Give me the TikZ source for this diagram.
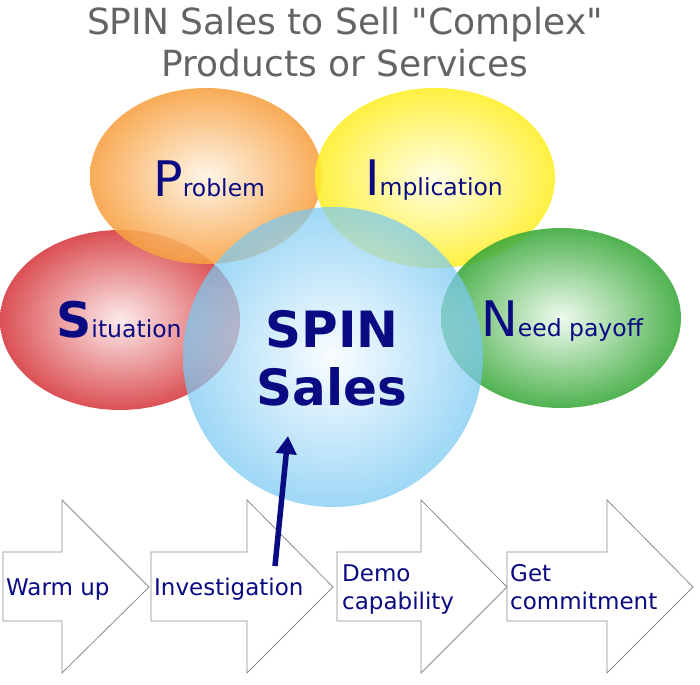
\documentclass[tikz,border=0pt]{standalone}
\usepackage{fontspec}
\setmainfont{DejaVu Sans}[Ligatures=TeXOff]
\usetikzlibrary{arrows.meta}
\definecolor{navy}{RGB}{10,10,130}
\definecolor{titlegray}{RGB}{100,100,100}
\definecolor{orgout}{RGB}{247,160,64}
\definecolor{orgin}{RGB}{255,244,228}
\definecolor{yelout}{RGB}{255,238,40}
\definecolor{yelin}{RGB}{255,255,228}
\definecolor{redout}{RGB}{214,56,60}
\definecolor{redin}{RGB}{252,232,232}
\definecolor{grnout}{RGB}{56,168,56}
\definecolor{grnin}{RGB}{236,250,236}
\definecolor{bluout}{RGB}{120,200,242}
\definecolor{bluin}{RGB}{248,252,255}
\definecolor{boxline}{RGB}{140,140,140}
\tikzset{
  ball/.style={fill opacity=0.88},
  blockarrow/.style={draw=boxline, line width=0.8pt, fill=white},
  steptext/.style={inner sep=0pt, text=navy, font=\fontsize{23}{28}\selectfont, anchor=base west, align=left},
  lbl/.style={inner sep=0pt, text=navy, anchor=base west},
  title/.style={text=titlegray, font=\fontsize{36}{42}\selectfont, align=center, inner sep=0pt},
  pointer/.style={draw=navy, line width=5.5pt, -{Triangle[width=20pt,length=18pt]}}
}
\newcommand{\bigletter}[1]{{\fontsize{49}{49}\selectfont #1}}
\newcommand{\smallrest}[1]{{\fontsize{23.5}{23.5}\selectfont #1}}
\begin{document}
\begin{tikzpicture}[x=1pt,y=-1pt]
\useasboundingbox (0,0) rectangle (700,684);
% title
\node[title] (ttl) at (345,42) {SPIN Sales to Sell "Complex"\\Products or Services};
% ellipses
\shade[ball, inner color=redin, outer color=redout] (120,320) ellipse [x radius=120, y radius=90];
\shade[ball, inner color=orgin, outer color=orgout] (206,176) ellipse [x radius=116, y radius=88];
\shade[ball, inner color=yelin, outer color=yelout] (435,178) ellipse [x radius=120, y radius=90];
\shade[ball, inner color=grnin, outer color=grnout] (561,318) ellipse [x radius=120, y radius=90];
\shade[fill opacity=0.72, inner color=bluin, outer color=bluout] (333,357) circle [radius=150];
% labels
\node[lbl] (prob) at (153,197) {\bigletter{P}\smallrest{roblem}};
\node[lbl] (impl) at (365,196) {\bigletter{I}\smallrest{mplication}};
\node[lbl] (situ) at (56,337) {\bigletter{\bfseries S}\smallrest{ituation}};
\node[lbl] (need) at (481,336) {\bigletter{N}\smallrest{eed payoff}};
\node[text=navy, font=\bfseries\fontsize{50}{58}\selectfont, align=center, inner sep=0pt] (spin) at (332,358) {SPIN\\Sales};
% block arrows
\draw[blockarrow] (3,552) -- (62,552) -- (62,500) -- (149,587) -- (62,673) -- (62,621) -- (3,621) -- cycle;
\draw[blockarrow] (151,552) -- (247,552) -- (247,500) -- (333,587) -- (247,673) -- (247,621) -- (151,621) -- cycle;
\draw[blockarrow] (337,552) -- (421,552) -- (421,500) -- (507,587) -- (421,673) -- (421,621) -- (337,621) -- cycle;
\draw[blockarrow] (507,552) -- (607,552) -- (607,500) -- (693,587) -- (607,673) -- (607,621) -- (507,621) -- cycle;
\node[steptext] (warm) at (6,595) {Warm up};
\node[steptext] (inv) at (154,595) {Investigation};
\node[steptext] (demo) at (342,609) {Demo\\capability};
\node[steptext] (get) at (510,609) {Get\\commitment};
% pointer
\coordinate (pstart) at (275,566);
\coordinate (pend) at (288,436);
\draw[pointer] (pstart) -- (pend);
\end{tikzpicture}
\end{document}
